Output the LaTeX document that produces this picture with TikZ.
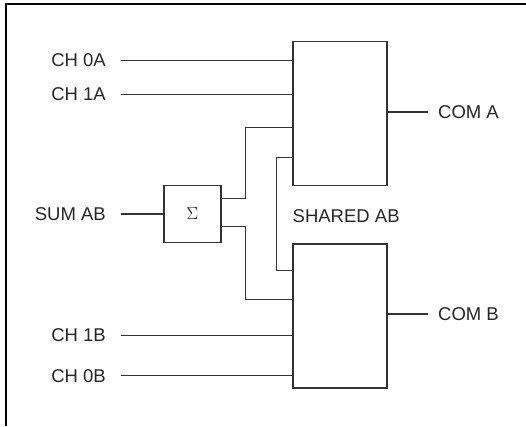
\documentclass[tikz,border=0pt]{standalone}
\usepackage{fontspec}
\setmainfont{Liberation Sans}
\begin{document}
\begin{tikzpicture}[x=1pt,y=-1pt]
    \tikzset{blk/.style = {shape=rectangle, draw=black!80, line width=1.1pt, inner sep=0pt}}
    \tikzset{lbl/.style = {inner sep=0pt, text=black!85, font=\fontsize{18.5}{20}\selectfont}}
    \tikzset{wire/.style = {draw=black!80, line width=1.1pt}}
    \useasboundingbox (0,0) rectangle (526,426);
    % frame
    \draw[line width=2pt] (6,426) -- (6,3.7) -- (526,3.7);
    % blocks
    \node[blk, minimum width=94pt, minimum height=144pt] (boxa) at (340,113.5) {};
    \node[blk, minimum width=94pt, minimum height=144pt] (boxb) at (340,316) {};
    \node[blk, minimum width=57pt, minimum height=57pt] (sum) at (192.5,214) {\fontsize{18}{20}\selectfont$\Sigma$};
    % labels
    \node[lbl, anchor=east] (ch0a) at (106,60.5) {CH 0A};
    \node[lbl, anchor=east] (ch1a) at (106,94.5) {CH 1A};
    \node[lbl, anchor=east] (sumab) at (106,214) {SUM AB};
    \node[lbl, anchor=east] (ch1b) at (106,335.5) {CH 1B};
    \node[lbl, anchor=east] (ch0b) at (106,375.7) {CH 0B};
    \node[lbl, anchor=west] (coma) at (438,112) {COM A};
    \node[lbl, anchor=west] (comb) at (438,314) {COM B};
    \node[lbl, anchor=west] (shared) at (292.5,216.5) {SHARED AB};
    % wires
    \draw[wire] ([xshift=15pt]ch0a.east) -- (ch0a -| boxa.west);
    \draw[wire] ([xshift=15pt]ch1a.east) -- (ch1a -| boxa.west);
    \draw[wire] ([xshift=15pt]ch1b.east) -- (ch1b -| boxb.west);
    \draw[wire] ([xshift=15pt]ch0b.east) -- (ch0b -| boxb.west);
    \draw[wire] ([xshift=15pt]sumab.east) -- (sum.west);
    \draw[wire] (coma.west -| boxa.east) -- ([xshift=-10pt]coma.west);
    \draw[wire] (comb.west -| boxb.east) -- ([xshift=-10pt]comb.west);
    \draw[wire] (sum.east |- 0,198.3) -| (245.5,127.5) -- (boxa.west |- 0,127.5);
    \draw[wire] (sum.east |- 0,226.7) -| (245.5,299.7) -- (boxb.west |- 0,299.7);
    \draw[wire] (boxa.west |- 0,157.3) -| (276.5,270.3) -- (boxb.west |- 0,270.3);
\end{tikzpicture}
\end{document}
